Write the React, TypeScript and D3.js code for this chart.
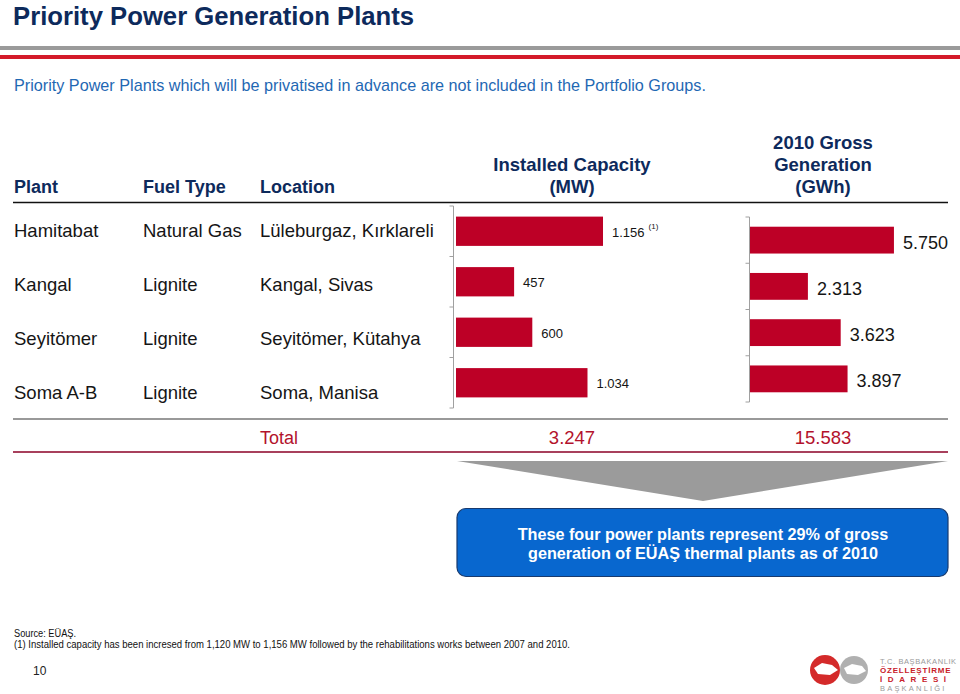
import React from "react";
import * as d3 from "d3";

const plants = ["Hamitabat", "Kangal", "Seyitömer", "Soma A-B"];
const fuelTypes = ["Natural Gas", "Lignite", "Lignite", "Lignite"];
const locations = ["Lüleburgaz, Kırklareli", "Kangal, Sivas", "Seyitömer, Kütahya", "Soma, Manisa"];
const capacityMW = [1156, 457, 600, 1034];
const capacityNotes = ["(1)", "", "", ""];
const generationGWh = [5750, 2313, 3623, 3897];

const title = "Priority Power Generation Plants";
const subtitle = "Priority Power Plants which will be privatised in advance are not included in the Portfolio Groups.";
const colHeaders = ["Plant", "Fuel Type", "Location"];
const capHeader = ["Installed Capacity", "(MW)"];
const genHeader = ["2010 Gross", "Generation", "(GWh)"];
const calloutLines = [
  "These four power plants represent 29% of gross",
  "generation of EÜAŞ thermal plants as of 2010",
];
const sourceNote = "Source: EÜAŞ.";
const footNote = "(1) Installed capacity has been incresed from 1,120 MW to 1,156 MW followed by the rehabilitations works between 2007 and 2010.";
const pageNo = "10";

const W = 960;
const H = 694;
const FONT = "'Liberation Sans', Arial, Helvetica, sans-serif";
const NAVY = "#0d2a5c";
const BAR = "#bd0026";
const TOTAL_RED = "#b3122c";
const TEXT = "#151515";

const fmt = d3
  .formatLocale({ decimal: ",", thousands: ".", grouping: [3], currency: ["", ""] })
  .format(",");

export default function App() {
  const rowY = d3.scalePoint<string>().domain(plants).range([230, 392]);
  const colX = [14, 143, 260];

  const capY = d3.scaleBand<string>().domain(plants).range([206, 408]).padding(0);
  const capX = d3.scaleLinear().domain([0, 1200]).range([456, 608.6]);
  const genY = d3.scaleBand<string>().domain(plants).range([217, 402]).padding(0);
  const genX = d3.scaleLinear().domain([0, 6000]).range([750, 900.2]);

  const capTotal = d3.sum(capacityMW);
  const genTotal = d3.sum(generationGWh);

  const capCenter = 572;
  const genCenter = 823;

  const axisTicks = (scale: d3.ScaleBand<string>) => {
    const d = scale.domain();
    const arr = d.map((k) => scale(k) as number);
    arr.push((scale(d[d.length - 1]) as number) + scale.step());
    return arr;
  };

  return (
    <div style={{ position: "absolute", left: 0, top: 0, width: W, height: H, background: "#fff" }}>
      <svg width={W} height={H} style={{ display: "block", fontFamily: FONT }}>
        <rect x={0} y={0} width={W} height={H} fill="#fff" />
        <text x={13} y={25} fontSize={25.7} fontWeight="bold" fill={NAVY}>
          {title}
        </text>
        <rect x={0} y={46} width={W} height={4} fill="#9a9a9a" />
        <rect x={0} y={55} width={W} height={4} fill="#d41a2a" />
        <text x={14} y={91} fontSize={16.2} fill="#1f68b3">
          {subtitle}
        </text>

        {colHeaders.map((h, i) => (
          <text key={h} x={colX[i]} y={193} fontSize={18} fontWeight="bold" fill={NAVY}>
            {h}
          </text>
        ))}
        {capHeader.map((t, i) => (
          <text key={t} x={capCenter} y={171 + i * 22} fontSize={18.5} fontWeight="bold" fill={NAVY} textAnchor="middle">
            {t}
          </text>
        ))}
        {genHeader.map((t, i) => (
          <text key={t} x={genCenter} y={149 + i * 22} fontSize={18.5} fontWeight="bold" fill={NAVY} textAnchor="middle">
            {t}
          </text>
        ))}
        <line x1={13} x2={948} y1={202.5} y2={202.5} stroke="#111" strokeWidth={1.5} />

        {plants.map((p, i) => (
          <g key={p} fontSize={18.5} fill={TEXT}>
            <text x={colX[0]} y={(rowY(p) as number) + 6.8}>{p}</text>
            <text x={colX[1]} y={(rowY(p) as number) + 6.8}>{fuelTypes[i]}</text>
            <text x={colX[2]} y={(rowY(p) as number) + 6.8}>{locations[i]}</text>
          </g>
        ))}

        <g stroke="#a0a0a0" strokeWidth={1}>
          <line x1={453.5} x2={453.5} y1={capY.range()[0]} y2={capY.range()[1]} />
          {axisTicks(capY).map((y, i) => (
            <line key={i} x1={449.5} x2={453.5} y1={y} y2={y} />
          ))}
        </g>
        {plants.map((p, i) => {
          const y0 = (capY(p) as number) + capY.bandwidth() * 0.21;
          const h = capY.bandwidth() * 0.58;
          const xe = capX(capacityMW[i]);
          return (
            <g key={p}>
              <rect x={capX(0)} y={y0} width={xe - capX(0)} height={h} fill={BAR} />
              <text x={xe + 9} y={y0 + h / 2 + 1} dominantBaseline="central" fontSize={13} fill={TEXT}>
                {fmt(capacityMW[i])}
                {capacityNotes[i] ? (
                  <tspan fontSize={8} dx={4} dy={-6}>
                    {capacityNotes[i]}
                  </tspan>
                ) : null}
              </text>
            </g>
          );
        })}

        <g stroke="#a0a0a0" strokeWidth={1}>
          <line x1={749.5} x2={749.5} y1={genY.range()[0]} y2={genY.range()[1]} />
          {axisTicks(genY).map((y, i) => (
            <line key={i} x1={745.5} x2={749.5} y1={y} y2={y} />
          ))}
        </g>
        {plants.map((p, i) => {
          const y0 = (genY(p) as number) + genY.bandwidth() * 0.21;
          const h = genY.bandwidth() * 0.58;
          const xe = genX(generationGWh[i]);
          return (
            <g key={p}>
              <rect x={genX(0)} y={y0} width={xe - genX(0)} height={h} fill={BAR} />
              <text x={xe + 9} y={y0 + h / 2 + 2.5} dominantBaseline="central" fontSize={18} fill={TEXT}>
                {fmt(generationGWh[i])}
              </text>
            </g>
          );
        })}

        <line x1={13} x2={948} y1={419} y2={419} stroke="#777" strokeWidth={1.5} />
        <text x={260} y={444} fontSize={18} fill={TOTAL_RED}>Total</text>
        <text x={capCenter} y={444} fontSize={18.5} fill={TOTAL_RED} textAnchor="middle">
          {fmt(capTotal)}
        </text>
        <text x={genCenter} y={444} fontSize={18.5} fill={TOTAL_RED} textAnchor="middle">
          {fmt(genTotal)}
        </text>
        <line x1={13} x2={948} y1={452} y2={452} stroke="#a8405c" strokeWidth={2} />

        <polygon points="457,461 948,461 703,501" fill="#9b9b9b" />
        <rect x={457} y={508.5} width={491} height={68} rx={9} ry={9} fill="#0867cf" stroke="#183a6e" strokeWidth={1.2} />
        {calloutLines.map((t, i) => (
          <text key={t} x={703} y={539.5 + i * 19} fontSize={16.2} fontWeight="bold" fill="#fff" textAnchor="middle">
            {t}
          </text>
        ))}

        <text x={14} y={637} fontSize={10} fill="#111" fontFamily="'Liberation Sans Narrow', 'Liberation Sans', Arial" textLength={62} lengthAdjust="spacingAndGlyphs">
          {sourceNote}
        </text>
        <text x={14} y={648} fontSize={10} fill="#111" fontFamily="'Liberation Sans Narrow', 'Liberation Sans', Arial" textLength={556} lengthAdjust="spacingAndGlyphs">
          {footNote}
        </text>
        <text x={33} y={675} fontSize={12} fill="#222" fontFamily="'Liberation Sans Narrow', 'Liberation Sans', Arial">
          {pageNo}
        </text>

        <g>
          <circle cx={825} cy={670} r={15} fill="#d42a2a" />
          <path d="M814,668 L822,663 L832,665 L838,670 L830,675 L818,674 Z" fill="#fff" />
          <circle cx={854} cy={670} r={14} fill="#b0b0b0" />
          <path d="M844,668 L852,664 L862,666 L866,671 L858,675 L847,674 Z" fill="#fff" />
          <text x={880} y={664} fontSize={7.5} fill="#9a9a9a" letterSpacing={0.6}>T.C. BAŞBAKANLIK</text>
          <text x={880} y={673} fontSize={8} fontWeight="bold" fill="#c8202a" letterSpacing={0.8}>ÖZELLEŞTİRME</text>
          <text x={880} y={682} fontSize={8} fontWeight="bold" fill="#c8202a" letterSpacing={5.6}>İDARESİ</text>
          <text x={880} y={691} fontSize={7.5} fill="#9a9a9a" letterSpacing={2.2}>BAŞKANLIĞI</text>
        </g>
      </svg>
    </div>
  );
}
